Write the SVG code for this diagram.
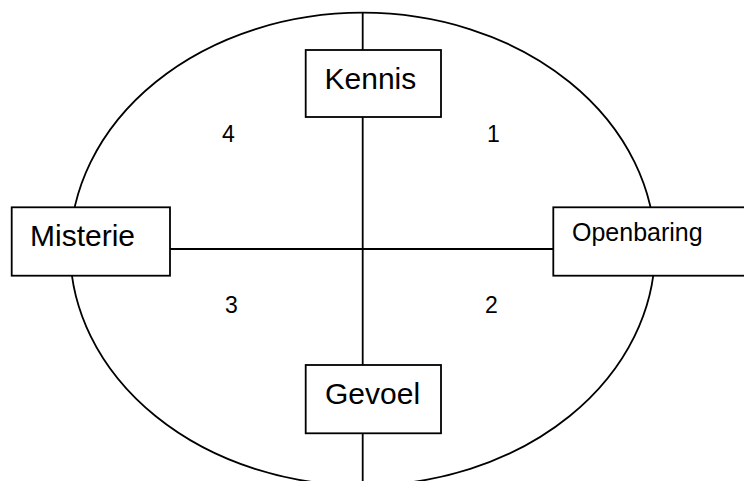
<svg xmlns="http://www.w3.org/2000/svg" width="744" height="481" viewBox="0 0 744 481">
<style>
.box{fill:#ffffff;stroke:#000000;stroke-width:1.8}
.ln{stroke:#000000;stroke-width:1.8;fill:none}
.lbl{font-family:"Liberation Sans",Arial,sans-serif;font-size:30px;fill:#000000}
.sm{font-family:"Liberation Sans",Arial,sans-serif;font-size:25px;fill:#000000}
.num{font-family:"Liberation Sans",Arial,sans-serif;font-size:23px;fill:#000000}
</style>
<rect x="0" y="0" width="744" height="481" fill="#ffffff"/>
<ellipse class="ln" cx="362.6" cy="249.1" rx="292.5" ry="236.4"/>
<g id="connectors">
<line class="ln" x1="362.7" y1="12.7" x2="362.7" y2="481"/>
<line class="ln" x1="170" y1="249" x2="553.3" y2="249"/>
</g>
<g id="kennis">
<rect class="box" x="305.7" y="50" width="135.3" height="67"/>
<text class="lbl" x="324.5" y="89.3">Kennis</text>
</g>
<g id="misterie">
<rect class="box" x="11.7" y="207.3" width="158.3" height="68.4"/>
<text class="lbl" x="30" y="245.7">Misterie</text>
</g>
<g id="openbaring">
<rect class="box" x="553.3" y="207.3" width="210" height="68.4"/>
<text class="sm" x="572" y="240.7">Openbaring</text>
</g>
<g id="gevoel">
<rect class="box" x="305.7" y="365" width="135.3" height="68.3"/>
<text class="lbl" x="325" y="404">Gevoel</text>
</g>
<g id="quadrants">
<text class="num" x="222" y="141.7">4</text>
<text class="num" x="487" y="141.7">1</text>
<text class="num" x="225" y="313.3">3</text>
<text class="num" x="485" y="313.3">2</text>
</g>
</svg>
